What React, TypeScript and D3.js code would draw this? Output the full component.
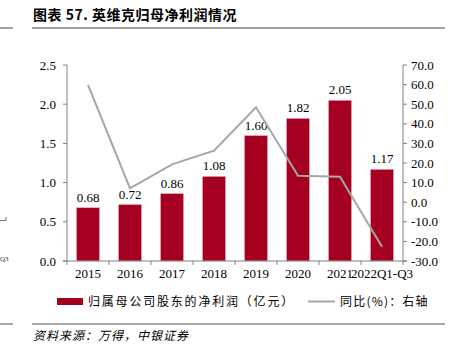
import React from "react";
import * as d3 from "d3";

const categories = ["2015", "2016", "2017", "2018", "2019", "2020", "2021", "2022Q1-Q3"];
const profit = [0.68, 0.72, 0.86, 1.08, 1.6, 1.82, 2.05, 1.17];
const yoy = [59.8, 7.1, 19.3, 26.3, 48.4, 13.5, 13.0, -22.7];
const leftTicks = [0, 0.5, 1.0, 1.5, 2.0, 2.5];
const rightTicks = [-30, -20, -10, 0, 10, 20, 30, 40, 50, 60, 70];

const W = 456, H = 355;
const plotL = 67, plotR = 403, plotT = 65, plotB = 261;
const serif = "'Liberation Serif', 'Times New Roman', serif";
const cjk = "'Noto Sans CJK SC', sans-serif";
const barColor = "#a50021";
const lineColor = "#a6a6a6";
const axisColor = "#808080";

export default function App() {
  const x = d3.scaleBand<string>().domain(categories).range([plotL, plotR]).paddingInner(0.45).paddingOuter(0.225);
  const yL = d3.scaleLinear().domain([0, 2.5]).range([plotB, plotT]);
  const yR = d3.scaleLinear().domain([-30, 70]).range([plotB, plotT]);
  const line = d3.line<number>()
    .x((_, i) => (x(categories[i]) as number) + x.bandwidth() / 2)
    .y((d) => yR(d));
  const step = (plotR - plotL) / categories.length;

  return (
    <svg width={W} height={H} style={{ position: "absolute", left: 0, top: 0, background: "#fff" }}>
      {/* title */}
      <text x={33} y={20} fontFamily={cjk} fontWeight="bold" fontSize={14} letterSpacing={0.5} fill="#000">图表 57. 英维克归母净利润情况</text>
      <line x1={32} x2={445} y1={28} y2={28} stroke="#808080" strokeWidth={1.5} />
      <line x1={0} x2={13} y1={28} y2={28} stroke="#808080" strokeWidth={1.5} />
      {/* left neighbour fragments */}
      <line x1={0} x2={6} y1={220.5} y2={220.5} stroke="#555" strokeWidth={0.8} />
      <line x1={6} x2={6} y1={217} y2={221} stroke="#555" strokeWidth={0.8} />
      <text x={0} y={261} fontFamily={serif} fontSize={7} fill="#333">Q3</text>

      {/* bars */}
      {profit.map((v, i) => (
        <rect key={"b" + i} x={x(categories[i])} y={yL(v)} width={x.bandwidth()} height={plotB - yL(v)}
          fill={barColor} stroke="#e9b5bd" strokeWidth={0.6} />
      ))}
      {profit.map((v, i) => (
        <text key={"l" + i} x={(x(categories[i]) as number) + x.bandwidth() / 2} y={yL(v) - 6}
          textAnchor="middle" fontFamily={serif} fontSize={13} fill="#000">{v.toFixed(2)}</text>
      ))}
      {/* line */}
      <path d={line(yoy) || ""} fill="none" stroke={lineColor} strokeWidth={2} />

      {/* left axis */}
      <line x1={plotL} x2={plotL} y1={plotT} y2={plotB} stroke={axisColor} />
      {leftTicks.map((t) => (
        <g key={"lt" + t}>
          <line x1={plotL - 4} x2={plotL} y1={yL(t)} y2={yL(t)} stroke={axisColor} />
          <text x={plotL - 11} y={yL(t) + 4.5} textAnchor="end" fontFamily={serif} fontSize={13} fill="#000">{t.toFixed(1)}</text>
        </g>
      ))}
      {/* right axis */}
      <line x1={plotR} x2={plotR} y1={plotT} y2={plotB} stroke={axisColor} />
      {rightTicks.map((t) => (
        <g key={"rt" + t}>
          <line x1={plotR} x2={plotR + 4} y1={yR(t)} y2={yR(t)} stroke={axisColor} />
          <text x={plotR + 8} y={yR(t) + 4.5} textAnchor="start" fontFamily={serif} fontSize={13} fill="#000">{t.toFixed(1)}</text>
        </g>
      ))}
      {/* x axis */}
      <line x1={plotL - 4} x2={plotR + 4} y1={plotB} y2={plotB} stroke={axisColor} />
      {d3.range(categories.length + 1).map((i) => (
        <line key={"xt" + i} x1={plotL + i * step} x2={plotL + i * step} y1={plotB} y2={plotB + 4} stroke={axisColor} />
      ))}
      {categories.map((c) => (
        <text key={"xl" + c} x={(x(c) as number) + x.bandwidth() / 2} y={278} textAnchor="middle"
          fontFamily={serif} fontSize={13} fill="#000">{c}</text>
      ))}

      {/* legend */}
      <rect x={57} y={298} width={26} height={7} fill={barColor} />
      <text x={88} y={306} fontFamily={cjk} fontSize={12} letterSpacing={1.8} fill="#000">归属母公司股东的净利润（亿元）</text>
      <line x1={308} x2={335} y1={301.5} y2={301.5} stroke={lineColor} strokeWidth={2} />
      <text x={340} y={306} fontFamily={cjk} fontSize={12} letterSpacing={1.2} fill="#000">同比(%)：右轴</text>

      {/* bottom rule and source */}
      <line x1={32} x2={445} y1={324} y2={324} stroke="#555" strokeWidth={1} />
      <line x1={0} x2={13} y1={324} y2={324} stroke="#555" strokeWidth={1} />
      <text x={33} y={340} fontFamily={cjk} fontStyle="italic" fontSize={12} letterSpacing={1} fill="#000">资料来源：万得，中银证券</text>
    </svg>
  );
}
